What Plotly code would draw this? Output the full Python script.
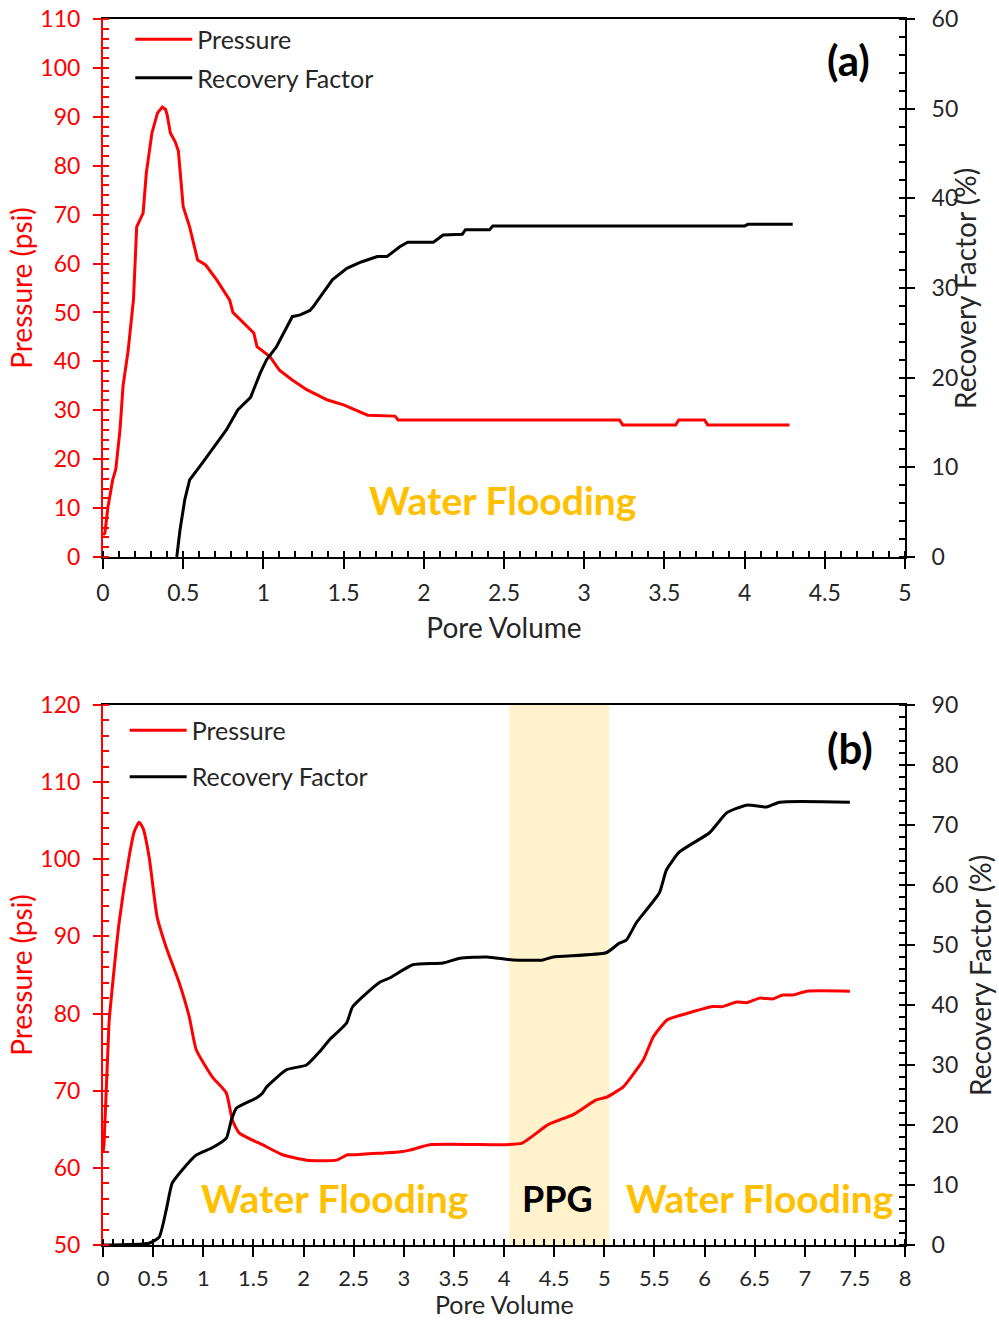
import plotly.graph_objects as go

# ---------------- Data: panel (a) ----------------
pv_a_pressure = [0.00, 0.012, 0.03, 0.06, 0.08, 0.106, 0.125, 0.156, 0.19, 0.21, 0.25, 0.27, 0.305,
                 0.34, 0.37, 0.39, 0.40, 0.42, 0.45, 0.47, 0.50, 0.54, 0.59, 0.64, 0.71, 0.79,
                 0.81, 0.87, 0.94, 0.96, 1.04, 1.10, 1.18, 1.27, 1.40, 1.50, 1.58, 1.65, 1.82,
                 1.84, 3.22, 3.24, 3.57, 3.59, 3.75, 3.77, 4.28]
pressure_a = [4.5, 4.9, 10, 15.7, 18, 26, 35, 42, 52.6, 67.5, 70.3, 78.5, 86.7,
              90.8, 92, 91.5, 90.4, 86.7, 84.9, 83, 71.6, 67.5, 60.7, 59.7, 56.6, 52.5,
              50, 48, 45.8, 43, 41, 38.2, 36.2, 34.2, 32.1, 31.1, 30, 29, 28.8,
              28, 28, 27, 27, 28, 28, 27, 27]

pv_a_rf = [0.46, 0.48, 0.51, 0.54, 0.62, 0.71, 0.77, 0.84, 0.92, 0.98, 1.02, 1.08, 1.18, 1.23,
           1.29, 1.31, 1.43, 1.52, 1.61, 1.71, 1.77, 1.85, 1.90, 2.06, 2.12, 2.24, 2.26, 2.41,
           2.43, 4.00, 4.02, 4.30]
rf_a = [0, 3, 6.4, 8.6, 10.5, 12.7, 14.2, 16.4, 17.8, 20.5, 22, 23.4, 26.8, 27,
        27.5, 27.9, 30.9, 32.2, 32.9, 33.5, 33.5, 34.6, 35.1, 35.1, 35.9, 36.0, 36.5, 36.5,
        36.9, 36.9, 37.1, 37.1]

# ---------------- Data: panel (b) ----------------
pv_b_pressure = [0.0, 0.01, 0.06, 0.09, 0.16, 0.26, 0.31, 0.36, 0.40, 0.46, 0.54, 0.63, 0.76,
                 0.86, 0.93, 1.09, 1.23, 1.29, 1.36, 1.59, 1.79, 2.03, 2.33, 2.44, 2.51, 2.97,
                 3.06, 3.26, 4.00, 4.18, 4.44, 4.69, 4.92, 5.03, 5.19, 5.27, 5.39, 5.49, 5.63,
                 5.85, 6.08, 6.18, 6.32, 6.42, 6.55, 6.68, 6.78, 6.88, 7.02, 7.45]
pressure_b = [62, 63, 78.8, 83, 91.7, 100.3, 103.5, 104.8, 104, 100.3, 92.5, 88.6, 84,
              79.6, 75.3, 71.8, 69.7, 66.2, 64.5, 63, 61.7, 61, 61, 61.7, 61.7, 62.1,
              62.3, 63, 63, 63.2, 65.6, 66.9, 68.8, 69.2, 70.5, 71.8, 74, 77, 79.2,
              80.1, 80.9, 80.9, 81.5, 81.4, 82, 81.9, 82.4, 82.4, 82.9, 82.9]

pv_b_rf = [0.0, 0.46, 0.56, 0.63, 0.69, 0.79, 0.93, 1.09, 1.23, 1.28, 1.33, 1.53, 1.59, 1.63,
           1.83, 2.03, 2.16, 2.26, 2.43, 2.49, 2.76, 2.86, 3.09, 3.39, 3.56, 3.83, 4.09, 4.39,
           4.49, 5.02, 5.15, 5.22, 5.32, 5.55, 5.62, 5.75, 6.05, 6.22, 6.42, 6.62, 6.75, 7.45]
rf_b = [0, 0.3, 1.3, 5.8, 10.3, 12.5, 15, 16.2, 17.8, 20.8, 22.8, 24.5, 25.3, 26.3,
        29.2, 30, 32.2, 34.2, 37, 39.7, 43.8, 44.5, 46.7, 47, 47.8, 48, 47.5, 47.5,
        48, 48.7, 50.3, 50.8, 53.7, 58.7, 62.5, 65.5, 68.7, 72, 73.3, 73, 73.8, 73.8]

ppg_start, ppg_end = 4.05, 5.05

FONT = "Lato"
RED = "#FF0000"
DARK = "#262626"
TICK = 23
TITLE = 28

fig = go.Figure()

fig.add_trace(go.Scatter(x=pv_a_pressure, y=pressure_a, mode="lines", name="Pressure",
                         line=dict(color=RED, width=3), xaxis="x", yaxis="y",
                         legend="legend", legendgroup="a1"))
fig.add_trace(go.Scatter(x=pv_a_rf, y=rf_a, mode="lines", name="Recovery Factor",
                         line=dict(color="black", width=3), xaxis="x", yaxis="y2",
                         legend="legend", legendgroup="a2"))
fig.add_trace(go.Scatter(x=pv_b_pressure, y=pressure_b, mode="lines", name="Pressure",
                         line=dict(color=RED, width=3, shape="spline", smoothing=0.5),
                         xaxis="x2", yaxis="y3", legend="legend2", legendgroup="b1"))
fig.add_trace(go.Scatter(x=pv_b_rf, y=rf_b, mode="lines", name="Recovery Factor",
                         line=dict(color="black", width=3, shape="spline", smoothing=0.5),
                         xaxis="x2", yaxis="y4", legend="legend2", legendgroup="b2"))

fig.add_shape(type="rect", x0=ppg_start, x1=ppg_end, xref="x2", yref="y3 domain", y0=0, y1=1,
              fillcolor="#FFF2CC", line_width=0, layer="below")

top_dom = [0.5612, 1.0]
bot_dom = [0.0, 0.4405]


def xax(rng, dom_anchor, size):
    return dict(range=rng, dtick=0.5, tick0=0, ticks="outside", ticklen=10, tickwidth=2,
                tickcolor="black", showline=True, linecolor="black", linewidth=2, mirror=True,
                showgrid=False, zeroline=False, tickfont=dict(size=size, color=DARK, family=FONT),
                ticklabelstandoff=4, ticklabeloverflow="allow",
                minor=dict(dtick=0.1, ticks="inside", ticklen=6, tickwidth=2, tickcolor="black"),
                anchor=dom_anchor, domain=[0, 1], automargin=False)


def yleft(rng, dom, anchor):
    return dict(range=rng, dtick=10, tick0=0, ticks="outside", ticklen=8, tickwidth=2,
                tickcolor=RED, showline=True, linecolor=RED, linewidth=2, showgrid=False,
                zeroline=False, tickfont=dict(size=TICK, color=RED, family=FONT),
                ticklabelstandoff=8, ticklabeloverflow="allow",
                minor=dict(dtick=2, ticks="inside", ticklen=6, tickwidth=2, tickcolor=RED),
                title=dict(text="Pressure (psi)", font=dict(size=TITLE, color=RED, family=FONT),
                           standoff=0),
                domain=dom, anchor=anchor, automargin=False)


def yright(rng, overlay, anchor):
    return dict(range=rng, dtick=10, tick0=0, ticks="outside", ticklen=8, tickwidth=2,
                tickcolor="black", showline=True, linecolor="black", linewidth=2,
                showgrid=False, zeroline=False, side="right", overlaying=overlay, anchor=anchor,
                tickfont=dict(size=TICK, color=DARK, family=FONT), ticklabelstandoff=12,
                ticklabeloverflow="allow",
                minor=dict(dtick=2, ticks="inside", ticklen=6, tickwidth=2, tickcolor="black"),
                automargin=False)


xa = xax([0, 5], "y", TICK)
xa["title"] = dict(text="Pore Volume", font=dict(size=TITLE, color=DARK, family=FONT), standoff=14)
xb = xax([0, 8], "y3", 22)
xb["ticklabelstandoff"] = 3

fig.update_layout(
    width=999, height=1320,
    margin=dict(l=103, r=94, t=19, b=75),
    paper_bgcolor="white", plot_bgcolor="white",
    font=dict(family=FONT, color=DARK),
    xaxis=xa,
    yaxis=yleft([0, 110], top_dom, "x"),
    yaxis2=yright([0, 60], "y", "x"),
    xaxis2=xb,
    yaxis3=yleft([50, 120], bot_dom, "x2"),
    yaxis4=yright([0, 90], "y3", "x2"),
    legend=dict(x=0.034, y=1.002, xanchor="left", yanchor="top", bgcolor="rgba(0,0,0,0)",
                font=dict(size=25, color=DARK, family=FONT), traceorder="grouped",
                tracegroupgap=3, itemwidth=57),
    legend2=dict(x=0.027, y=0.4385, xanchor="left", yanchor="top", bgcolor="rgba(0,0,0,0)",
                 font=dict(size=25, color=DARK, family=FONT), traceorder="grouped",
                 tracegroupgap=11, itemwidth=57),
    showlegend=True,
)

ann = []
# Panel (a)
ann.append(dict(x=2.49, y=11.7, xref="x", yref="y", text="<b>Water Flooding</b>", showarrow=False,
                font=dict(size=39, color="#FFC000", family=FONT)))
ann.append(dict(x=4.645, y=101.6, xref="x", yref="y", text="<b>(a)</b>", showarrow=False,
                font=dict(size=42, color="black", family=FONT)))
ann.append(dict(x=1.0748, y=0.7806, xref="paper", yref="paper", text="Recovery Factor (%)",
                xanchor="center", yanchor="middle",
                textangle=-90, showarrow=False, font=dict(size=TITLE, color=DARK, family=FONT)))
# Panel (b)
ann.append(dict(x=2.31, y=56.1, xref="x2", yref="y3", text="<b>Water Flooding</b>", showarrow=False,
                font=dict(size=39, color="#FFC000", family=FONT)))
ann.append(dict(x=4.53, y=56.1, xref="x2", yref="y3", text="<b>PPG</b>", showarrow=False,
                font=dict(size=36, color="black", family=FONT)))
ann.append(dict(x=6.55, y=56.1, xref="x2", yref="y3", text="<b>Water Flooding</b>", showarrow=False,
                font=dict(size=39, color="#FFC000", family=FONT)))
ann.append(dict(x=7.45, y=114.4, xref="x2", yref="y3", text="<b>(b)</b>", showarrow=False,
                font=dict(size=42, color="black", family=FONT)))
ann.append(dict(x=1.0935, y=0.2203, xref="paper", yref="paper", text="Recovery Factor (%)",
                xanchor="center", yanchor="middle",
                textangle=-90, showarrow=False, font=dict(size=TITLE, color=DARK, family=FONT)))
# Bottom x-axis title (annotation so it sits tight under the tick labels)
ann.append(dict(x=0.5, y=-0.0481, xref="paper", yref="paper", text="Pore Volume",
                xanchor="center", yanchor="middle", showarrow=False,
                font=dict(size=25, color=DARK, family=FONT)))
fig.update_layout(annotations=ann)

fig.write_html("out.html", config={"displayModeBar": False},
               post_script="document.body.style.margin='0';document.body.style.overflow='hidden';")
